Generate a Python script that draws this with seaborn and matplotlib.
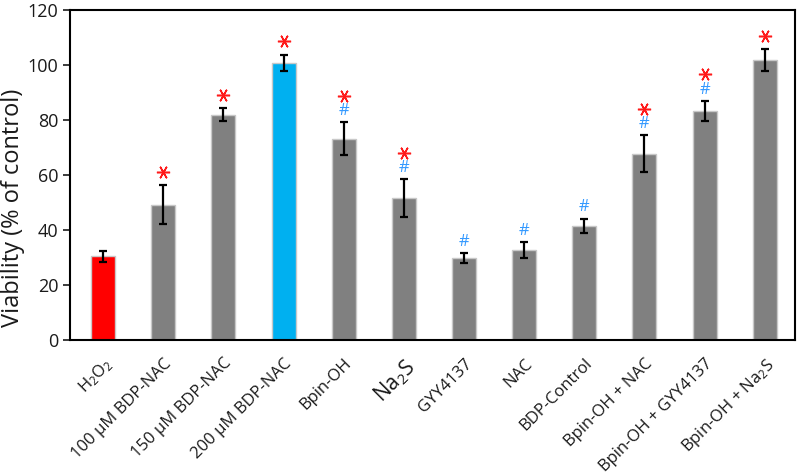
import matplotlib
matplotlib.use("Agg")
import matplotlib.pyplot as plt
import matplotlib.transforms as mtransforms
import seaborn as sns
import pandas as pd
import numpy as np

categories = ["H$_2$O$_2$", "100 µM BDP-NAC", "150 µM BDP-NAC", "200 µM BDP-NAC",
              "Bpin-OH", "Na$_2$S", "GYY4137", "NAC", "BDP-Control",
              "Bpin-OH + NAC", "Bpin-OH + GYY4137", "Bpin-OH + Na$_2$S"]
viability = [30.5, 49.2, 81.9, 100.8, 73.2, 51.6, 29.8, 32.7, 41.5, 67.8, 83.3, 101.9]
errors = [2.0, 7.0, 2.3, 3.0, 5.9, 6.9, 1.9, 2.8, 2.7, 6.7, 3.7, 4.0]
star = [False, True, True, True, True, True, False, False, False, True, True, True]
hashmark = [False, False, False, False, True, True, True, True, True, True, True, False]
bar_colors = ["#FF0000", "#808080", "#808080", "#00B0F0", "#808080", "#808080",
              "#808080", "#808080", "#808080", "#808080", "#808080", "#808080"]

sns.set_theme(style="white")
plt.rcParams["font.family"] = ["Open Sans", "DejaVu Sans"]
plt.rcParams["mathtext.default"] = "regular"

df = pd.DataFrame({"cat": categories, "val": viability})

fig = plt.figure(figsize=(8, 4.75), dpi=100)
ax = fig.add_axes([0.0875, 0.284, 0.906, 0.695])

sns.barplot(data=df, x="cat", y="val", hue="cat", palette=bar_colors, legend=False,
            width=0.4, ax=ax, edgecolor="#c8c8c8", linewidth=1.0, saturation=1)

x = np.arange(len(categories))
ax.errorbar(x, viability, yerr=errors, fmt="none", ecolor="black", elinewidth=1.6,
            capsize=3, capthick=1.6, zorder=5)

for i in range(len(categories)):
    top = viability[i] + errors[i]
    off = 9.5
    if hashmark[i]:
        ax.annotate("#", (i, top), xytext=(0, 8), textcoords="offset points",
                    ha="center", va="center", color="#3399FF", fontsize=12)
        off = 19
    if star[i]:
        tr = ax.transData + mtransforms.ScaledTranslation(0, off / 72, fig.dpi_scale_trans)
        ax.plot([i], [top], linestyle="none", marker=(6, 2, 90), markersize=9.5,
                markeredgewidth=1.1, color="#FF1A1A", transform=tr, clip_on=False, zorder=6)

ax.set_xlim(-0.55, 11.5)
ax.set_ylim(0, 120)
ax.set_yticks([0, 20, 40, 60, 80, 100, 120])
ax.set_xlabel("")
ax.set_ylabel("Viability (% of control)", fontsize=17, color="#1a1a1a")
ax.yaxis.set_label_coords(-0.062, 0.40)
ax.tick_params(axis="y", which="both", left=True, length=5, width=1.2,
               labelsize=13, colors="#1a1a1a")
ax.tick_params(axis="x", bottom=False, labelsize=12, colors="#1a1a1a", pad=5)
ax.set_xticks(x)
ax.set_xticklabels(categories, rotation=45, ha="right", rotation_mode="anchor")
for lbl in ax.get_xticklabels():
    if lbl.get_text() == "Na$_2$S":
        lbl.set_fontsize(15)
for s in ax.spines.values():
    s.set_visible(True)
    s.set_color("black")
    s.set_linewidth(1.5)

fig.savefig("out.png", dpi=100)
